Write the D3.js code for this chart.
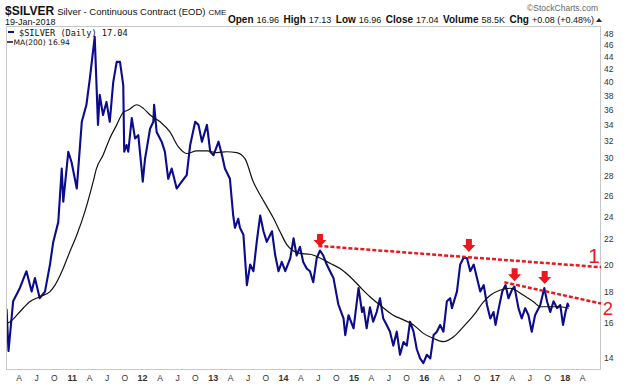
<!DOCTYPE html>
<html><head><meta charset="utf-8">
<script src="https://cdn.jsdelivr.net/npm/d3@7"></script>
<style>body{margin:0;background:#fff}svg{display:block}</style>
</head><body>
<script>
const priceDates = ["2010-01-26","2010-02-05","2010-03-01","2010-04-05","2010-05-09","2010-06-05","2010-06-22","2010-07-17","2010-08-13","2010-09-08","2010-09-25","2010-10-21","2010-11-08","2010-11-16","2010-12-12","2010-12-29","2011-01-25","2011-02-20","2011-03-16","2011-04-03","2011-04-28","2011-05-15","2011-05-24","2011-06-10","2011-06-28","2011-07-15","2011-08-02","2011-08-20","2011-09-06","2011-09-23","2011-09-28","2011-10-10","2011-10-19","2011-11-06","2011-11-23","2011-12-10","2011-12-27","2012-01-02","2012-01-14","2012-02-09","2012-02-26","2012-03-01","2012-03-14","2012-04-09","2012-04-26","2012-05-13","2012-05-31","2012-06-26","2012-07-22","2012-08-17","2012-09-04","2012-09-30","2012-10-17","2012-11-04","2012-11-30","2012-12-17","2013-01-03","2013-01-29","2013-02-16","2013-03-03","2013-03-29","2013-04-15","2013-04-24","2013-05-11","2013-05-20","2013-06-07","2013-06-25","2013-07-12","2013-07-29","2013-08-15","2013-09-02","2013-09-19","2013-10-06","2013-11-02","2013-11-19","2013-12-06","2013-12-23","2014-01-10","2014-02-05","2014-02-22","2014-03-10","2014-03-27","2014-04-13","2014-05-01","2014-05-18","2014-06-04","2014-06-22","2014-07-09","2014-07-26","2014-08-13","2014-08-30","2014-09-17","2014-10-12","2014-11-08","2014-11-17","2014-12-04","2014-12-30","2015-01-25","2015-02-12","2015-02-20","2015-03-08","2015-03-25","2015-04-11","2015-04-29","2015-05-16","2015-06-02","2015-06-20","2015-07-07","2015-07-24","2015-08-11","2015-08-28","2015-09-15","2015-10-02","2015-10-19","2015-11-06","2015-11-23","2015-12-10","2015-12-27","2016-01-14","2016-02-01","2016-02-18","2016-03-06","2016-03-23","2016-04-09","2016-04-27","2016-05-14","2016-05-23","2016-06-18","2016-07-05","2016-07-22","2016-08-09","2016-08-26","2016-09-13","2016-09-30","2016-10-17","2016-11-04","2016-11-21","2016-12-08","2016-12-25","2017-01-04","2017-01-21","2017-02-08","2017-02-25","2017-03-12","2017-03-30","2017-04-12","2017-05-03","2017-05-20","2017-06-07","2017-06-24","2017-07-11","2017-07-28","2017-08-24","2017-09-14","2017-09-28","2017-10-15","2017-11-01","2017-11-19","2017-12-06","2017-12-20","2018-01-02","2018-01-13","2018-01-19"];
const priceValues = [16.9,14.4,17.4,18.3,19.5,18.05,19.0,17.6,18.05,20.0,21.8,23.5,28.8,25.4,30.7,29.5,26.7,34.4,36.7,40.6,47.5,34.0,38.1,35.3,37.1,34.4,40.0,43.2,43.2,39.5,30.7,31.5,30.7,34.9,32.3,32.7,28.8,27.4,29.9,33.5,34.4,36.7,33.1,31.9,30.7,27.7,28.8,26.7,27.4,28.1,31.5,34.4,34.0,31.9,34.0,30.7,30.3,31.9,30.3,28.8,27.7,24.1,23.0,23.8,23.0,22.4,18.5,20.0,19.5,21.8,24.1,22.7,21.8,22.7,20.7,19.5,20.2,19.5,20.5,22.1,20.7,21.4,20.2,19.7,19.5,18.7,20.5,21.1,20.7,20.0,19.5,19.0,17.2,16.3,15.3,16.5,15.7,18.3,16.7,17.0,15.7,17.0,16.1,16.7,17.6,16.3,15.9,15.5,14.7,15.5,14.2,14.9,14.7,16.1,15.5,14.5,14.0,13.75,14.2,14.0,15.3,15.5,15.9,15.5,17.4,17.6,16.95,18.05,20.0,20.5,20.5,19.5,20.0,19.0,18.05,18.5,17.15,16.3,16.7,15.9,16.95,18.05,18.5,17.6,18.16,18.4,16.95,16.3,16.95,16.5,15.5,16.5,17.15,18.3,17.4,16.7,17.4,16.95,17.15,15.9,16.7,17.25,17.04];
const maDates = ["2010-01-28","2010-02-14","2010-04-05","2010-05-26","2010-07-17","2010-09-08","2010-10-04","2010-11-08","2010-12-20","2011-01-25","2011-03-08","2011-04-20","2011-05-07","2011-06-10","2011-07-15","2011-08-20","2011-09-23","2011-10-19","2011-12-02","2012-01-05","2012-02-09","2012-04-01","2012-05-22","2012-07-04","2012-08-17","2012-10-08","2012-11-30","2013-01-21","2013-03-12","2013-05-03","2013-06-15","2013-07-28","2013-09-02","2013-10-06","2013-11-10","2013-12-14","2014-01-19","2014-02-14","2014-03-27","2014-05-18","2014-07-09","2014-08-30","2014-10-21","2014-12-12","2015-02-03","2015-03-25","2015-05-16","2015-07-24","2015-09-15","2015-11-06","2015-12-27","2016-02-18","2016-04-09","2016-06-01","2016-07-22","2016-09-13","2016-11-04","2016-12-08","2017-01-30","2017-03-21","2017-04-16","2017-05-29","2017-07-20","2017-08-24","2017-10-15","2017-12-06","2018-01-19"];
const maValues = [16.0,16.1,16.72,17.37,17.7,18.05,18.5,19.46,21.0,22.38,24.45,27.4,28.8,30.3,32.3,34.0,35.65,35.97,36.7,36.2,35.3,34.4,33.1,31.3,30.5,30.8,30.8,30.6,30.7,30.6,29.9,27.4,26.05,24.95,23.85,22.66,21.55,21.14,20.87,20.8,20.5,20.1,19.7,19.1,18.35,17.7,17.15,16.5,16.21,15.9,15.4,15.1,14.92,15.2,15.8,16.5,17.37,17.8,18.16,18.28,18.16,17.8,17.37,17.04,17.04,17.04,16.94];
const yTicks = [14,16,18,20,22,24,26,28,30,32,34,36,38,40,42,44,46,48];
const trend1Dates = ["2014-07-01","2018-07-05"], trend1Values = [21.47,19.8];
const trend2Dates = ["2017-02-19","2018-07-05"], trend2Values = [18.7,17.25];
const arrowDates = ["2014-07-09","2016-08-19","2017-04-13","2017-09-16"];
const arrowValues = [21.3,20.9,18.7,18.5];
const headerStats = [["Open","16.96"],["High","17.13"],["Low","16.96"],["Close","17.04"],["Volume","58.5K"],["Chg","+0.08 (+0.48%)"]];

const W=624,H=391;
const svg=d3.select("body").append("svg").attr("width",W).attr("height",H);
const L=6,R=601,T=26,B=370;
const pt=d3.utcParse("%Y-%m-%d");
const x=d3.scaleUtc().domain([pt("2010-01-23"),pt("2018-07-05")]).range([L,R]);
const y=d3.scaleLog().domain([13.4,49.5]).range([B,T]);

// frame
svg.append("rect").attr("x",L+0.5).attr("y",T+0.5).attr("width",R-L-1).attr("height",B-T-1)
  .attr("fill","none").attr("stroke","#c8c8c8");

// right axis labels
const gy=svg.append("g").attr("font-family","Liberation Sans, Arial, sans-serif").attr("font-size",8.5).attr("fill","#333");
gy.selectAll("text").data(yTicks).join("text").attr("x",R+3).attr("y",d=>y(d)+3).text(d=>d);

// bottom axis labels
const months=d3.utcMonths(pt("2010-02-01"),pt("2018-07-01")).filter(d=>[0,3,6,9].includes(d.getUTCMonth()));
const gx=svg.append("g").attr("font-family","Liberation Sans, Arial, sans-serif").attr("font-size",8.5).attr("fill","#333").attr("text-anchor","middle");
gx.selectAll("text").data(months).join("text")
  .attr("x",d=>x(d)).attr("y",381)
  .attr("font-weight",d=>d.getUTCMonth()===0?"bold":"normal")
  .attr("font-size",d=>d.getUTCMonth()===0?9:8.5)
  .text(d=>{const m=d.getUTCMonth();return m===0?d3.utcFormat("%y")(d):["","","","A","","","J","","","O"][m];});

const clip=svg.append("clipPath").attr("id","c").append("rect").attr("x",L+1).attr("y",T+1).attr("width",R-L-2).attr("height",B-T-2);
const plot=svg.append("g").attr("clip-path","url(#c)");

const price=priceDates.map((d,i)=>({d:pt(d),v:priceValues[i]}));
const ma=maDates.map((d,i)=>({d:pt(d),v:maValues[i]}));
const line=d3.line().x(p=>x(p.d)).y(p=>y(p.v));
plot.append("path").datum(price).attr("d",line).attr("fill","none").attr("stroke","#0b0b8c").attr("stroke-width",2.1).attr("stroke-linejoin","round");
plot.append("path").datum(ma).attr("d",line.curve(d3.curveMonotoneX)).attr("fill","none").attr("stroke","#111").attr("stroke-width",1.2);
line.curve(d3.curveLinear);

// trendlines
[[trend1Dates,trend1Values],[trend2Dates,trend2Values]].forEach(([ds,vs])=>{
  svg.append("line").attr("x1",x(pt(ds[0]))).attr("y1",y(vs[0])).attr("x2",x(pt(ds[1]))).attr("y2",y(vs[1]))
   .attr("stroke","#e8191f").attr("stroke-width",2.5).attr("stroke-dasharray","4,2");
});
// arrows
arrowDates.forEach((d,i)=>{
  const ax=x(pt(d)), ay=y(arrowValues[i])-1;
  svg.append("path").attr("fill","#e8191f")
    .attr("d",`M${ax-3},${ay-13}L${ax+3},${ay-13}L${ax+3},${ay-7}L${ax+6.5},${ay-7}L${ax},${ay}L${ax-6.5},${ay-7}L${ax-3},${ay-7}Z`);
});
svg.append("text").attr("x",594).attr("y",263).attr("text-anchor","middle").attr("fill","#e8191f")
  .attr("font-family","Liberation Sans, Arial, sans-serif").attr("font-size",21).text("1");
svg.append("text").attr("x",608).attr("y",314.5).attr("text-anchor","middle").attr("fill","#e8191f")
  .attr("font-family","Liberation Sans, Arial, sans-serif").attr("font-size",18.5).text("2");

// legend
svg.append("line").attr("x1",8).attr("x2",14).attr("y1",32).attr("y2",32).attr("stroke","#0b0b8c").attr("stroke-width",2);
svg.append("text").attr("x",19).attr("y",35.5).attr("font-family","DejaVu Sans Mono, monospace").attr("font-size",8.6).attr("fill","#111").text("$SILVER (Daily) 17.04");
svg.append("line").attr("x1",7).attr("x2",13).attr("y1",42).attr("y2",42).attr("stroke","#111").attr("stroke-width",1.5);
svg.append("text").attr("x",13.5).attr("y",45).attr("font-family","DejaVu Sans, Verdana, sans-serif").attr("font-size",7.6).attr("fill","#111").text("MA(200) 16.94");

// header
const hf="Liberation Sans, Arial, sans-serif";
const t1=svg.append("text").attr("x",5).attr("y",15).attr("font-family",hf).attr("fill","#111");
t1.append("tspan").attr("font-weight","bold").attr("font-size",12).text("$SILVER");
t1.append("tspan").attr("font-size",9.5).attr("dx",3).text("Silver - Continuous Contract (EOD)");
t1.append("tspan").attr("font-size",8).attr("dx",3).text("CME");
svg.append("text").attr("x",5).attr("y",24.5).attr("font-family",hf).attr("font-size",9).attr("fill","#111").text("19-Jan-2018");
svg.append("text").attr("x",598).attr("y",11).attr("text-anchor","end").attr("font-family",hf).attr("font-size",8.5).attr("fill","#666").text("©StockCharts.com");
const t2=svg.append("text").attr("x",594).attr("y",23).attr("text-anchor","end").attr("font-family",hf).attr("fill","#111");
headerStats.forEach(([k,v],i)=>{
  t2.append("tspan").attr("font-weight","bold").attr("font-size",10).attr("dx",i?4.5:0).text(k);
  t2.append("tspan").attr("font-size",9).attr("dx",3).text(v);
});
svg.append("path").attr("d","M596,22 L602,22 L599,18 Z").attr("fill","#2a2a2a");
</script>
</body></html>
